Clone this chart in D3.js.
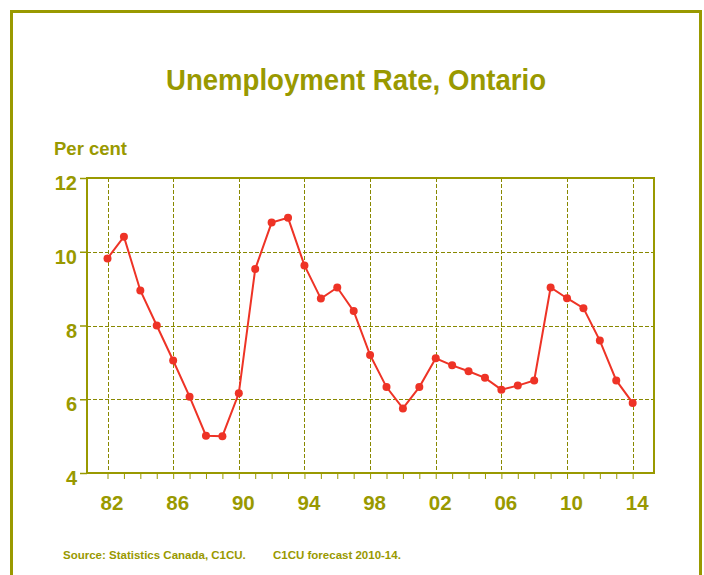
<!DOCTYPE html>
<html>
<head>
<meta charset="utf-8">
<script src="https://cdn.jsdelivr.net/npm/d3@7"></script>
<style>
  html, body { margin: 0; padding: 0; background: #ffffff; }
  svg { display: block; }
  text { font-family: "Liberation Sans", Arial, sans-serif; font-weight: bold; fill: #999900; }
</style>
</head>
<body>
<svg id="chart" width="704" height="575"></svg>
<script>
// Ontario unemployment rate, per cent (2010-14 forecast)
const years = [1982, 1983, 1984, 1985, 1986, 1987, 1988, 1989, 1990, 1991, 1992,
               1993, 1994, 1995, 1996, 1997, 1998, 1999, 2000, 2001, 2002, 2003,
               2004, 2005, 2006, 2007, 2008, 2009, 2010, 2011, 2012, 2013, 2014];
const rates = [9.82, 10.41, 8.95, 8.0, 7.05, 6.07, 5.01, 5.0, 6.16, 9.53, 10.79,
               10.92, 9.63, 8.73, 9.03, 8.39, 7.2, 6.33, 5.75, 6.33, 7.11, 6.92,
               6.76, 6.58, 6.26, 6.37, 6.51, 9.03, 8.74, 8.47, 7.59, 6.51, 5.9];
const yTicks = [4, 6, 8, 10, 12];
const xLabelYears = [1982, 1986, 1990, 1994, 1998, 2002, 2006, 2010, 2014];

const titleText = "Unemployment Rate, Ontario";
const unitText = "Per cent";
const sourceText = "Source: Statistics Canada, C1CU.";
const forecastText = "C1CU forecast 2010-14.";

const olive = "#999900";
const gridCol = "#888800";
const red = "#ee3326";

const svg = d3.select("#chart");

// outer frame
svg.append("rect")
  .attr("x", 11.5).attr("y", 11.5)
  .attr("width", 689).attr("height", 600)
  .attr("fill", "none").attr("stroke", olive).attr("stroke-width", 3);

const plotL = 87, plotR = 654, plotT = 178, plotB = 473;

const x = d3.scaleLinear().domain([1980.75, 2015.3]).range([plotL, plotR]);
const y = d3.scaleLinear().domain([4, 12]).range([plotB, plotT]);

// title and unit label
svg.append("text")
  .attr("x", 166).attr("y", 90)
  .attr("font-size", 30)
  .attr("textLength", 380).attr("lengthAdjust", "spacingAndGlyphs")
  .text(titleText);

svg.append("text")
  .attr("x", 54).attr("y", 155)
  .attr("font-size", 18.5)
  .text(unitText);

// dashed grid
const grid = svg.append("g")
  .attr("stroke", gridCol).attr("stroke-width", 1)
  .attr("stroke-dasharray", "4,2").attr("fill", "none");

grid.selectAll("line.v").data(xLabelYears).join("line")
  .attr("class", "v")
  .attr("x1", d => Math.round(x(d)) + 0.5).attr("x2", d => Math.round(x(d)) + 0.5)
  .attr("y1", plotT).attr("y2", plotB);

grid.selectAll("line.h").data(yTicks.filter(v => v > 4 && v < 12)).join("line")
  .attr("class", "h")
  .attr("y1", d => Math.round(y(d)) + 0.5).attr("y2", d => Math.round(y(d)) + 0.5)
  .attr("x1", plotL).attr("x2", plotR);

// plot frame
svg.append("rect")
  .attr("x", plotL).attr("y", plotT)
  .attr("width", plotR - plotL).attr("height", plotB - plotT)
  .attr("fill", "none").attr("stroke", olive).attr("stroke-width", 2);

// y axis
const yAxis = d3.axisLeft(y).tickValues(yTicks).tickSize(7).tickPadding(0)
  .tickFormat(d3.format("d"));
const gy = svg.append("g").attr("transform", `translate(${plotL},0)`).call(yAxis);
gy.select(".domain").remove();
gy.selectAll(".tick line").attr("stroke", olive).attr("stroke-width", 1.5);
gy.selectAll(".tick text")
  .attr("x", -10).attr("dy", null).attr("y", 11.5)
  .attr("font-size", 20)
  .attr("font-family", "Liberation Sans, Arial, sans-serif")
  .attr("font-weight", "bold")
  .attr("fill", olive)
  .attr("text-anchor", "end");

// x axis: a tick for every year, labels every fourth
const xAxis = d3.axisBottom(x).tickValues(years).tickSize(6).tickPadding(0)
  .tickFormat(d => xLabelYears.includes(d) ? String(d % 100).padStart(2, "0") : "");
const gx = svg.append("g").attr("transform", `translate(0,${plotB})`).call(xAxis);
gx.select(".domain").remove();
gx.selectAll(".tick line").attr("stroke", olive).attr("stroke-width", 1);
gx.selectAll(".tick text")
  .attr("y", 37).attr("dy", null).attr("dx", 4)
  .attr("font-size", 20.5)
  .attr("font-family", "Liberation Sans, Arial, sans-serif")
  .attr("font-weight", "bold")
  .attr("fill", olive);

// series
const data = years.map((yr, i) => ({ yr, v: rates[i] }));
const line = d3.line().x(d => x(d.yr)).y(d => y(d.v));

svg.append("path")
  .datum(data)
  .attr("d", line)
  .attr("fill", "none")
  .attr("stroke", red)
  .attr("stroke-width", 2);

svg.append("g").selectAll("circle").data(data).join("circle")
  .attr("cx", d => x(d.yr)).attr("cy", d => y(d.v))
  .attr("r", 4)
  .attr("fill", red);

// source note
svg.append("text")
  .attr("x", 63).attr("y", 559).attr("font-size", 11.5)
  .text(sourceText);
svg.append("text")
  .attr("x", 273).attr("y", 559).attr("font-size", 11.5)
  .text(forecastText);
</script>
</body>
</html>
